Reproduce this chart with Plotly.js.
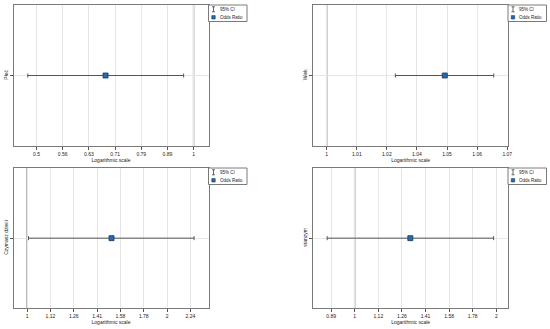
<!DOCTYPE html>
<html>
<head>
<meta charset="utf-8">
<script src="https://cdn.plot.ly/plotly-3.0.1.min.js"></script>
<style>html,body{margin:0;padding:0;background:#fff;}#chart{width:550px;height:329px;}</style>
</head>
<body>
<div id="chart"></div>
<script>
// ---- data ----
var variables = ['Płeć', 'Wiek', 'Czymasz dzieci', 'stanzym'];
var oddsRatio = [0.678, 1.0467, 1.519, 1.313];
var ciLower   = [0.481, 1.0269, 1.007, 0.874];
var ciUpper   = [0.957, 1.0667, 2.286, 1.974];

var tickValues1 = [0.5, 0.5612, 0.63, 0.7071, 0.7937, 0.8909, 1];
var tickLabels1 = ['0.5', '0.56', '0.63', '0.71', '0.79', '0.89', '1'];
var tickValues2 = [1, 1.0117, 1.0235, 1.0355, 1.0476, 1.0599, 1.0723];
var tickLabels2 = ['1', '1.01', '1.02', '1.04', '1.05', '1.06', '1.07'];
var tickValues3 = [1, 1.1225, 1.2599, 1.4142, 1.5874, 1.7818, 2, 2.2449];
var tickLabels3 = ['1', '1.12', '1.26', '1.41', '1.58', '1.78', '2', '2.24'];
var tickValues4 = [0.8909, 1, 1.1225, 1.2599, 1.4142, 1.5874, 1.7818, 2];
var tickLabels4 = ['0.89', '1', '1.12', '1.26', '1.41', '1.58', '1.78', '2'];

var xRanges = [[0.4516, 1.068], [0.99483, 1.0726], [0.935, 2.455], [0.8166, 2.118]];

var legendLabels = ['95% CI', 'Odds Ratio'];
var xTitle = 'Logarithmic scale';

// ---- layout helpers ----
var W = 550, H = 329;
var FONT = 'Liberation Sans, Arial, sans-serif';
var tickValues = [tickValues1, tickValues2, tickValues3, tickValues4];
var tickLabels = [tickLabels1, tickLabels2, tickLabels3, tickLabels4];
// panel boxes in px: [left, right, top, bottom]
var boxes = [[13.5, 208.5, 5, 146], [313.3, 508, 5, 146], [13.5, 208.5, 168, 308.3], [313.3, 508, 168, 308.3]];

function px(x) { return x / W; }
function py(y) { return 1 - y / H; }

var data = [];
var layout = {
  width: W, height: H,
  margin: {l: 0, r: 0, t: 0, b: 0, pad: 0},
  paper_bgcolor: '#fff', plot_bgcolor: '#fff',
  showlegend: false,
  font: {family: FONT, size: 5, color: '#222'},
  shapes: [], annotations: []
};

for (var i = 0; i < 4; i++) {
  var n = i === 0 ? '' : String(i + 1);
  var b = boxes[i];
  data.push({
    type: 'scatter', mode: 'markers',
    x: [oddsRatio[i]], y: [variables[i]],
    xaxis: 'x' + n, yaxis: 'y' + n,
    name: legendLabels[1],
    marker: {symbol: 'square', size: 5, color: '#1f6db5', line: {color: '#1b3556', width: 0.8}},
    error_x: {type: 'data', symmetric: false,
      array: [ciUpper[i] - oddsRatio[i]], arrayminus: [oddsRatio[i] - ciLower[i]],
      color: '#555', thickness: 1, width: 2},
    hoverinfo: 'x+y'
  });
  layout['xaxis' + n] = {
    type: 'log', anchor: 'y' + n,
    domain: [px(b[0]), px(b[1])],
    range: [Math.log10(xRanges[i][0]), Math.log10(xRanges[i][1])],
    tickmode: 'array', tickvals: tickValues[i], ticktext: tickLabels[i],
    ticks: 'outside', ticklen: 3, tickwidth: 1, tickcolor: '#555',
    tickfont: {family: FONT, size: 5, color: '#222'},
    showgrid: true, gridcolor: '#e6e6e6', gridwidth: 1,
    zeroline: false,
    showline: true, linecolor: '#7a7a7a', linewidth: 1, mirror: true,
    title: {text: xTitle, font: {family: FONT, size: 5, color: '#222'}, standoff: 2},
    automargin: false
  };
  layout['yaxis' + n] = {
    type: 'category', anchor: 'x' + n,
    domain: [py(b[3]), py(b[2])],
    range: [-1, 1],
    ticks: 'outside', ticklen: 3, tickwidth: 1, tickcolor: '#555',
    tickangle: -90,
    tickfont: {family: FONT, size: 5, color: '#222'},
    showgrid: true, gridcolor: '#e6e6e6', gridwidth: 1,
    zeroline: false,
    showline: true, linecolor: '#7a7a7a', linewidth: 1, mirror: true,
    automargin: false
  };
  // reference line at OR = 1
  layout.shapes.push({type: 'line', xref: 'x' + n, yref: 'y' + n + ' domain',
    x0: 1, x1: 1, y0: 0, y1: 1, layer: 'below',
    line: {color: '#9a9a9a', width: 1.5}});

  // legend box
  var lx0 = b[1], ly0 = b[2], lx1 = b[1] + 38.5, ly1 = b[2] + 16.5;
  layout.shapes.push({type: 'rect', xref: 'paper', yref: 'paper',
    x0: px(lx0), x1: px(lx1), y0: py(ly0), y1: py(ly1),
    fillcolor: '#fff', line: {color: '#7a7a7a', width: 1}});
  // CI symbol
  var sx = lx0 + 5, r1 = ly0 + 4.3, r2 = ly0 + 12.3;
  layout.shapes.push({type: 'line', xref: 'paper', yref: 'paper',
    x0: px(sx), x1: px(sx), y0: py(r1 - 2.5), y1: py(r1 + 2.5), line: {color: '#444', width: 0.8}});
  layout.shapes.push({type: 'line', xref: 'paper', yref: 'paper',
    x0: px(sx - 1.5), x1: px(sx + 1.5), y0: py(r1 - 2.5), y1: py(r1 - 2.5), line: {color: '#444', width: 0.8}});
  layout.shapes.push({type: 'line', xref: 'paper', yref: 'paper',
    x0: px(sx - 1.5), x1: px(sx + 1.5), y0: py(r1 + 2.5), y1: py(r1 + 2.5), line: {color: '#444', width: 0.8}});
  // OR symbol
  layout.shapes.push({type: 'rect', xref: 'paper', yref: 'paper',
    x0: px(sx - 1.7), x1: px(sx + 1.7), y0: py(r2 - 1.7), y1: py(r2 + 1.7),
    fillcolor: '#1f6db5', line: {color: '#1b3556', width: 0.6}});
  layout.annotations.push({xref: 'paper', yref: 'paper', x: px(sx + 5), y: py(r1),
    xanchor: 'left', yanchor: 'middle', showarrow: false, text: legendLabels[0],
    font: {family: FONT, size: 4.5, color: '#222'}, borderpad: 0});
  layout.annotations.push({xref: 'paper', yref: 'paper', x: px(sx + 5), y: py(r2),
    xanchor: 'left', yanchor: 'middle', showarrow: false, text: legendLabels[1],
    font: {family: FONT, size: 4.5, color: '#222'}, borderpad: 0});
}

Plotly.newPlot('chart', data, layout, {displayModeBar: false, staticPlot: true});
</script>
</body>
</html>
